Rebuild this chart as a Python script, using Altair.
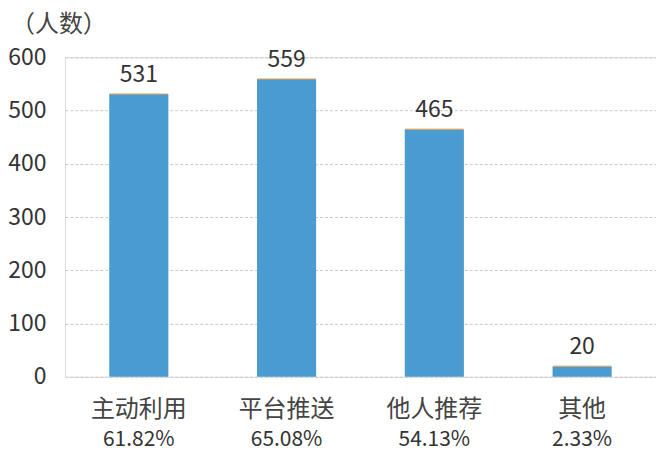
import altair as alt
import pandas as pd

categories = ["主动利用", "平台推送", "他人推荐", "其他"]
counts = [531, 559, 465, 20]
percents = ["61.82%", "65.08%", "54.13%", "2.33%"]
y_ticks = [0, 100, 200, 300, 400, 500, 600]

df = pd.DataFrame({"cat": categories, "n": counts, "pct": percents})
FONT = "Noto Sans CJK SC"

x = alt.X("cat:N", sort=categories, title=None,
          scale=alt.Scale(paddingInner=0.6, paddingOuter=0.3),
          axis=alt.Axis(labels=False, ticks=False, domain=False, grid=False))
y = alt.Y("n:Q", title=None,
          scale=alt.Scale(domain=[0, 600]),
          axis=alt.Axis(values=y_ticks, labelFontSize=23, labelColor="#333",
                        labelFont=FONT, labelPadding=19, ticks=False, domain=False,
                        grid=True, gridColor="#c8c8c8", gridDash=[3, 2], gridWidth=1))

base = alt.Chart(df)
bars = base.mark_bar(color="#4a9bd0").encode(x=x, y=y)
tops = base.mark_tick(color="#f0a050", thickness=1.5, size=58).encode(x=x, y=y)
labels = base.mark_text(dy=-19, fontSize=23, color="#333", font=FONT).encode(
    x=x, y=y, text="n:Q")
cat_lab = base.mark_text(fontSize=24, color="#444", font=FONT, baseline="middle").encode(
    x=x, y=alt.value(353), text="cat:N")
pct_lab = base.mark_text(fontSize=21, color="#333", font=FONT, baseline="middle").encode(
    x=x, y=alt.value(383), text="pct:N")
title = alt.Chart(pd.DataFrame({"t": ["（人数）"]})).mark_text(
    align="left", baseline="middle", fontSize=24, color="#444", font=FONT
).encode(x=alt.value(-54), y=alt.value(-32), text="t:N")

chart = alt.layer(bars, tops, labels, cat_lab, pct_lab, title).properties(
    width=592, height=320,
    autosize=alt.AutoSizeParams(type="none"),
    padding={"left": 57, "top": 49, "right": 0, "bottom": 84},
).configure_view(stroke=None).configure(background="white")

chart.save("out.html", embed_options={"renderer": "svg", "actions": False})
